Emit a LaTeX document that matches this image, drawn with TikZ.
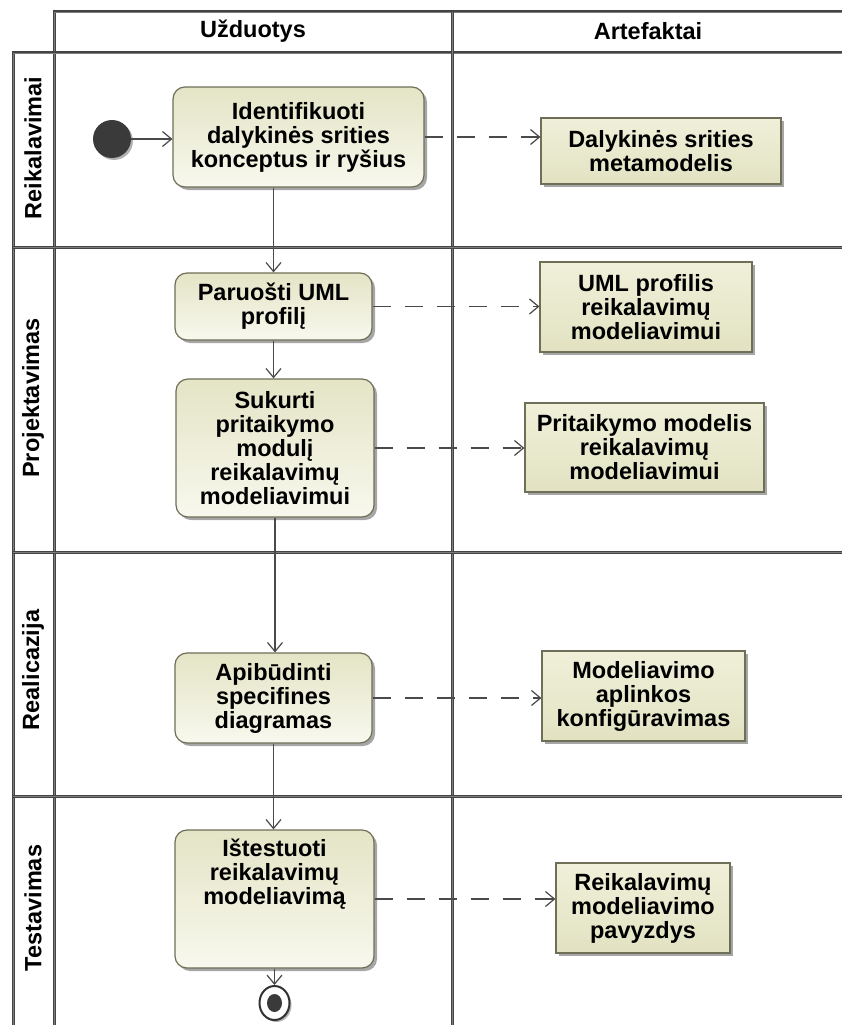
\documentclass[tikz,border=0pt]{standalone}
\usepackage{fontspec}
\setmainfont{Liberation Sans}
\usetikzlibrary{arrows.meta,shadows,shapes.geometric,calc}

\definecolor{laneline}{HTML}{444444}
\definecolor{lanemid}{HTML}{7E7E7E}
\definecolor{boxedge}{HTML}{6F6F58}
\definecolor{actTop}{HTML}{E4E4C6}
\definecolor{actBot}{HTML}{F8F8EE}
\definecolor{artTop}{HTML}{F0F0DA}
\definecolor{artBot}{HTML}{E2E2C2}
\definecolor{flow}{HTML}{4A4A4A}
\definecolor{startfill}{HTML}{3A3A3A}

\tikzset{
  lane/.style={draw=laneline, line width=1.1pt, double=lanemid, double distance=0.8pt},
  txt/.style={font=\fontsize{23.5}{24}\selectfont\bfseries, text=black},
  boxshadow/.style={drop shadow={shadow xshift=3pt, shadow yshift=-3pt, opacity=0.35, fill=black}},
  action/.style={txt, draw=boxedge, line width=1.2pt, rounded corners=12pt,
    top color=actTop, bottom color=actBot, align=center, inner sep=4pt, boxshadow},
  artifact/.style={txt, draw=boxedge, line width=1.2pt,
    top color=artTop, bottom color=artBot, align=center, inner sep=4pt, boxshadow},
  lanelabel/.style={txt, rotate=90},
  headlabel/.style={txt},
  flowline/.style={draw=flow, line width=1.2pt, -{Straight Barb[length=9pt,width=15pt]}},
  objflow/.style={flowline, dash pattern=on 18pt off 14pt},
}

\begin{document}
\begin{tikzpicture}[x=1pt, y=-1pt]
  \useasboundingbox (0,0) rectangle (842,1025);
  \fill[white] (0,0) rectangle (842,1025);

  % swimlane grid
  \draw[lane] (842,12) -- (54,12) -- (54,1025);
  \draw[lane] (842,53) -- (13,53) -- (13,1025);
  \draw[lane] (452,12) -- (452,1025);
  \foreach \yy in {247,552,796} \draw[lane] (13,\yy) -- (842,\yy);

  % column headers
  \node[headlabel] (hTasks) at (253,31) {Užduotys};
  \node[headlabel] (hArtifacts) at (648,31) {Artefaktai};

  % lane labels
  \node[lanelabel] (lReq)  at (33,148) {Reikalavimai};
  \node[lanelabel] (lDes)  at (33,398) {Projektavimas};
  \node[lanelabel] (lImpl) at (33,670) {Realicazija};
  \node[lanelabel] (lTest) at (33,908) {Testavimas};

  % initial node
  \node[circle, fill=startfill, minimum size=38pt, inner sep=0pt,
        drop shadow={shadow xshift=2pt, shadow yshift=-2pt, opacity=0.3, fill=black}] (start) at (112,139) {};

  % activities
  \node[action, minimum width=251pt, minimum height=100pt] (act1) at (298.5,137)
    {Identifikuoti\\dalykinės srities\\konceptus ir ryšius};
  \node[action, minimum width=197pt, minimum height=67pt] (act2) at (273.5,306.5)
    {Paruošti UML\\profilį};
  \node[action, minimum width=198pt, minimum height=138pt] (act3) at (275,448)
    {Sukurti\\pritaikymo\\modulį\\reikalavimų\\modeliavimui};
  \node[action, minimum width=197pt, minimum height=90pt] (act4) at (273.5,698)
    {Apibūdinti\\specifines\\diagramas};
  \node[action, minimum width=199pt, minimum height=138pt] (act5) at (274.5,899)
    {\parbox[c][128pt][t]{185pt}{\centering\vspace*{4pt}Ištestuoti\\reikalavimų\\modeliavimą}};

  % final node
  \node[ellipse, draw=black!80, line width=2pt, fill=white, minimum width=30pt, minimum height=34pt,
        inner sep=0pt, drop shadow={shadow xshift=2pt, shadow yshift=-2pt, opacity=0.3, fill=black}]
        (final) at (274.5,1003) {};
  \node[ellipse, fill=startfill, minimum width=15pt, minimum height=18pt, inner sep=0pt] (finaldot) at (final.center) {};

  % artifacts
  \node[artifact, minimum width=240pt, minimum height=66pt] (art1) at (661,151)
    {Dalykinės srities\\metamodelis};
  \node[artifact, minimum width=212pt, minimum height=90pt] (art2) at (646,307)
    {UML profilis\\reikalavimų\\modeliavimui};
  \node[artifact, minimum width=239pt, minimum height=89pt] (art3) at (644.5,447.5)
    {Pritaikymo modelis\\reikalavimų\\modeliavimui};
  \node[artifact, minimum width=203pt, minimum height=90pt] (art4) at (643.5,696)
    {Modeliavimo\\aplinkos\\konfigūravimas};
  \node[artifact, minimum width=174pt, minimum height=90pt] (art5) at (643,908)
    {Reikalavimų\\modeliavimo\\pavyzdys};

  % control flow
  \draw[flowline] (start.east) -- (start.east -| act1.west);
  \draw[flowline] (act1.south -| act2.north) -- (act2.north);
  \draw[flowline] (act2.south) -- (act2.south |- act3.north);
  \draw[flowline] (act3.south) -- (act3.south |- act4.north);
  \draw[flowline] (act4.south) -- (act4.south |- act5.north);
  \draw[flowline] (act5.south) -- (final.north);

  % object flow to artifacts
  \draw[objflow] (act1.east) -- (act1.east -| art1.west);
  \draw[objflow] (act2.east) -- (act2.east -| art2.west);
  \draw[objflow] (act3.east) -- (act3.east -| art3.west);
  \draw[objflow] (act4.east) -- (act4.east -| art4.west);
  \draw[objflow] (act5.east) -- (act5.east -| art5.west);
\end{tikzpicture}
\end{document}
